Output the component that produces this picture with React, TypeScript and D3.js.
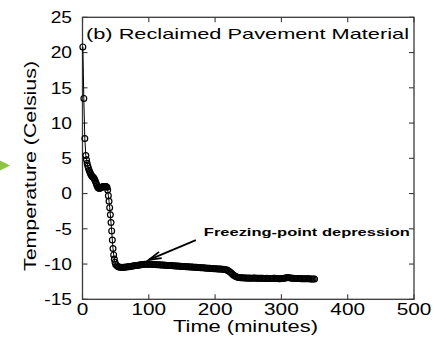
import React from "react";
import * as d3 from "d3";

// ---- data ----
const EARLY_TIME = [0.5, 2, 3.5, 5, 6, 7, 8, 9, 10, 11, 12, 13, 14, 15, 16, 17, 18, 19, 20, 21, 22, 23, 24, 25, 26, 27, 28, 29, 30, 31, 32, 33, 34, 35, 36, 37, 38, 39, 40, 41, 42, 43, 44, 45, 46, 47, 48, 49, 50];
const EARLY_TEMP = [20.8, 13.5, 7.8, 5.4, 4.8, 4.3, 3.9, 3.6, 3.3, 3.05, 2.85, 2.65, 2.5, 2.4, 2.3, 2.2, 2.05, 1.85, 1.6, 1.35, 1.1, 0.9, 0.8, 0.75, 0.75, 0.8, 0.85, 0.9, 0.95, 0.95, 1.0, 1.0, 1.0, 1.0, 0.95, 0.9, 0.5, -0.3, -1.1, -2.0, -3.0, -4.1, -5.3, -6.6, -7.8, -8.7, -9.3, -9.75, -10.05];
// later readings every 2 minutes from 52 to 350
const LATE_START = 52;
const LATE_STEP = 2;
const LATE_TEMP = [
  // 52 - 100
  -10.25, -10.38, -10.44, -10.47, -10.48, -10.47, -10.45, -10.43, -10.4, -10.37,
  -10.34, -10.31, -10.28, -10.25, -10.22, -10.19, -10.16, -10.13, -10.1, -10.07,
  -10.05, -10.03, -10.02, -10.02, -10.02,
  // 102 - 216
  -10.03, -10.04, -10.05, -10.06, -10.08, -10.09, -10.1, -10.11, -10.12, -10.14,
  -10.15, -10.16, -10.17, -10.19, -10.2, -10.21, -10.22, -10.24, -10.25, -10.26,
  -10.28, -10.29, -10.3, -10.31, -10.33, -10.34, -10.35, -10.37, -10.38, -10.39,
  -10.41, -10.42, -10.43, -10.45, -10.46, -10.47, -10.49, -10.5, -10.51, -10.53,
  -10.54, -10.55, -10.57, -10.58, -10.6, -10.61, -10.62, -10.64, -10.65, -10.67,
  -10.68, -10.69, -10.7, -10.71, -10.72, -10.74, -10.76, -10.8,
  // 218 - 236
  -10.86, -10.95, -11.08, -11.25, -11.42, -11.58, -11.7, -11.8, -11.86, -11.9,
  // 238 - 350
  -11.93, -11.95, -11.96, -11.97, -11.98, -11.99, -12.0, -11.99, -12.0, -12.01,
  -11.99, -11.98, -12.0, -12.02, -12.03, -12.01, -12.0, -12.02, -12.04, -12.06,
  -12.03, -12.04, -12.05, -12.06, -12.05, -12.03, -12.02, -12.04, -12.06, -12.08,
  -12.08, -12.06, -12.04, -12.01, -11.97, -11.94, -11.92, -11.95, -11.99, -12.02,
  -12.03, -12.04, -12.05, -12.05, -12.06, -12.06, -12.07, -12.07, -12.08, -12.08,
  -12.1, -12.1, -12.1, -12.11, -12.11, -12.11, -12.12,
];

const X_TICKS = [0, 100, 200, 300, 400, 500];
const Y_TICKS = [-15, -10, -5, 0, 5, 10, 15, 20, 25];
const TITLE = "(b) Reclaimed Pavement Material";
const X_LABEL = "Time (minutes)";
const Y_LABEL = "Temperature (Celsius)";
const NOTE = "Freezing-point depression";
const NOTE_POS = [183, -6.0];
const ARROW_FROM = [171, -6.6];
const ARROW_TO = [100, -9.4];

const FONT = "'Liberation Sans', Arial, Helvetica, sans-serif";

export default function App() {
  const x = d3.scaleLinear().domain([0, 500]).range([82.5, 414]);
  const y = d3.scaleLinear().domain([-15, 25]).range([299.3, 17.3]);

  const lateTime = LATE_TEMP.map((_, i) => LATE_START + i * LATE_STEP);
  const points = [
    ...EARLY_TIME.map((t, i) => [t, EARLY_TEMP[i]]),
    ...lateTime.map((t, i) => [t, LATE_TEMP[i]]),
  ];
  const line = d3.line().x((d) => x(d[0])).y((d) => y(d[1]));

  const [x0, x1] = x.range();
  const [y0, y1] = y.range();
  const tickLen = 5;
  const axisColor = "#3a3a3a";

  // arrow
  const ax1 = x(ARROW_FROM[0]), ay1 = y(ARROW_FROM[1]);
  const ax2 = x(ARROW_TO[0]), ay2 = y(ARROW_TO[1]);
  const ang = Math.atan2(ay1 - ay2, ax1 - ax2);
  const headLen = 13;
  const headAng = 0.26;
  const b1 = [ax2 + headLen * Math.cos(ang - headAng), ay2 + headLen * Math.sin(ang - headAng)];
  const b2 = [ax2 + headLen * Math.cos(ang + headAng), ay2 + headLen * Math.sin(ang + headAng)];

  return (
    <svg width={434} height={340} style={{ position: "absolute", left: 0, top: 0, background: "#fff" }} fontFamily={FONT}>
      <rect x={0} y={0} width={434} height={340} fill="#fff" />
      {/* green marker at the left edge */}
      <polygon points="0,160.5 10,165.5 0,170.5" fill="#8dc63f" />

      {/* frame */}
      <rect x={x0} y={y1} width={x1 - x0} height={y0 - y1} fill="none" stroke={axisColor} strokeWidth={1.3} />
      {X_TICKS.map((t) => (
        <g key={"xt" + t}>
          <line x1={x(t)} x2={x(t)} y1={y0} y2={y0 - tickLen} stroke={axisColor} strokeWidth={1.1} />
          <line x1={x(t)} x2={x(t)} y1={y1} y2={y1 + tickLen} stroke={axisColor} strokeWidth={1.1} />
          <text transform={`translate(${x(t)},315) scale(1.3,1)`} textAnchor="middle" fontSize={16} fill="#000">{t}</text>
        </g>
      ))}
      {Y_TICKS.map((t) => (
        <g key={"yt" + t}>
          <line x1={x0} x2={x0 + tickLen} y1={y(t)} y2={y(t)} stroke={axisColor} strokeWidth={1.1} />
          <line x1={x1} x2={x1 - tickLen} y1={y(t)} y2={y(t)} stroke={axisColor} strokeWidth={1.1} />
          <text transform={`translate(72,${y(t) + 5.8}) scale(1.2,1)`} textAnchor="end" fontSize={16} fill="#000">{t}</text>
        </g>
      ))}

      {/* series */}
      <path d={line(points as any) || ""} fill="none" stroke="#000" strokeWidth={1} />
      {points.map((p, i) => (
        <circle key={i} cx={x(p[0])} cy={y(p[1])} r={2.9} fill="none" stroke="#000" strokeWidth={1.2} />
      ))}

      {/* annotation */}
      <line x1={ax1} y1={ay1} x2={ax2} y2={ay2} stroke="#000" strokeWidth={1.8} />
      <polyline points={`${b1[0]},${b1[1]} ${ax2},${ay2} ${b2[0]},${b2[1]}`} fill="none" stroke="#000" strokeWidth={1.8} />
      <text x={x(NOTE_POS[0])} y={y(NOTE_POS[1])} fontSize={11} fontWeight="bold" textLength={206} lengthAdjust="spacingAndGlyphs" fill="#000">{NOTE}</text>

      {/* titles */}
      <text x={86} y={39.2} fontSize={15} textLength={323} lengthAdjust="spacingAndGlyphs" fill="#000">{TITLE}</text>
      <text x={245.5} y={332} fontSize={16} textAnchor="middle" textLength={145} lengthAdjust="spacingAndGlyphs" fill="#000">{X_LABEL}</text>
      <text transform="translate(36,166) rotate(-90)" fontSize={16} textAnchor="middle" textLength={210} lengthAdjust="spacingAndGlyphs" fill="#000">{Y_LABEL}</text>
    </svg>
  );
}
